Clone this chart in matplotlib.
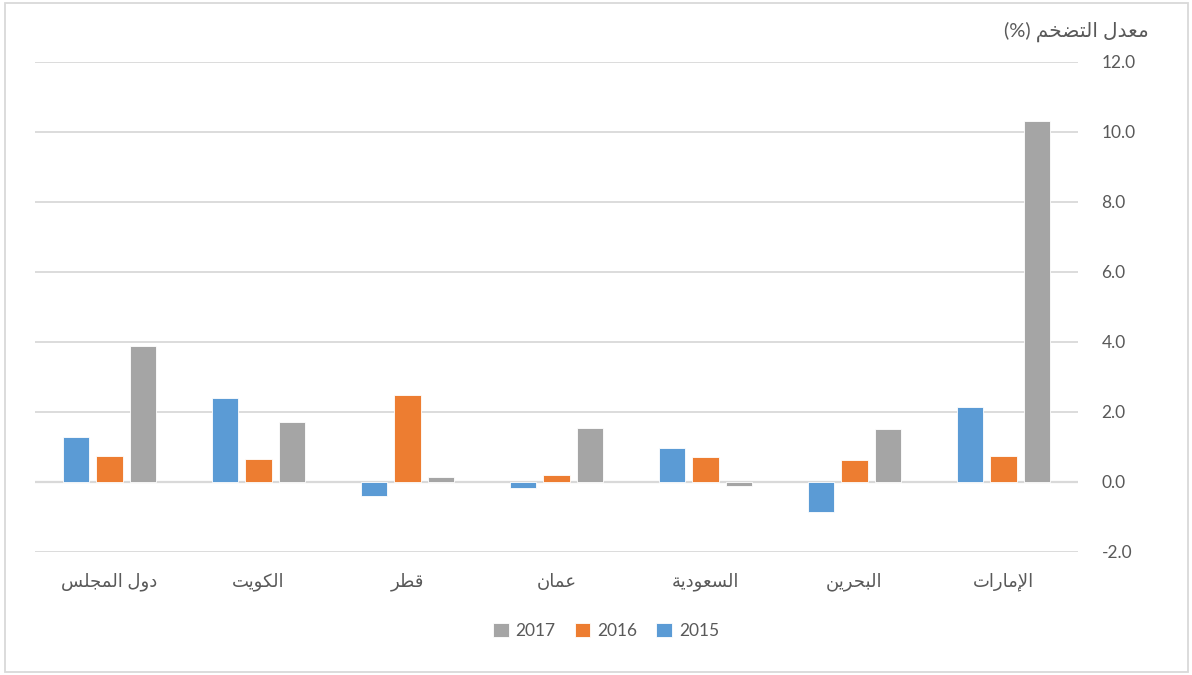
import matplotlib
matplotlib.use("Agg")
import matplotlib.pyplot as plt
import matplotlib.patches as mpatches
import numpy as np

# 数据（从右到左的阿拉伯语类别顺序）
categories = ["الإمارات", "البحرين", "السعودية", "عمان", "قطر", "الكويت", "دول المجلس"]
years = ["2015", "2016", "2017"]
values_2015 = [2.14, -0.86, 0.97, -0.17, -0.40, 2.40, 1.29]
values_2016 = [0.74, 0.63, 0.71, 0.20, 2.49, 0.66, 0.74]
values_2017 = [10.31, 1.51, -0.10, 1.54, 0.14, 1.71, 3.89]
y_ticks = [-2, 0, 2, 4, 6, 8, 10, 12]
axis_title = "معدل التضخم"

colors = {"2015": "#5b9bd5", "2016": "#ed7d31", "2017": "#a5a5a5"}
text_color = "#595959"
grid_color = "#d9d9d9"

# 阿拉伯字母连写形式：(独立, 词尾, 词首, 词中)
FORMS = {
    "\u0627": ("\uFE8D", "\uFE8E", None, None),
    "\u0625": ("\uFE87", "\uFE88", None, None),
    "\u0628": ("\uFE8F", "\uFE90", "\uFE91", "\uFE92"),
    "\u0629": ("\uFE93", "\uFE94", None, None),
    "\u062A": ("\uFE95", "\uFE96", "\uFE97", "\uFE98"),
    "\u062C": ("\uFE9D", "\uFE9E", "\uFE9F", "\uFEA0"),
    "\u062D": ("\uFEA1", "\uFEA2", "\uFEA3", "\uFEA4"),
    "\u062E": ("\uFEA5", "\uFEA6", "\uFEA7", "\uFEA8"),
    "\u062F": ("\uFEA9", "\uFEAA", None, None),
    "\u0631": ("\uFEAD", "\uFEAE", None, None),
    "\u0633": ("\uFEB1", "\uFEB2", "\uFEB3", "\uFEB4"),
    "\u0636": ("\uFEBD", "\uFEBE", "\uFEBF", "\uFEC0"),
    "\u0637": ("\uFEC1", "\uFEC2", "\uFEC3", "\uFEC4"),
    "\u0639": ("\uFEC9", "\uFECA", "\uFECB", "\uFECC"),
    "\u0642": ("\uFED5", "\uFED6", "\uFED7", "\uFED8"),
    "\u0643": ("\uFED9", "\uFEDA", "\uFEDB", "\uFEDC"),
    "\u0644": ("\uFEDD", "\uFEDE", "\uFEDF", "\uFEE0"),
    "\u0645": ("\uFEE1", "\uFEE2", "\uFEE3", "\uFEE4"),
    "\u0646": ("\uFEE5", "\uFEE6", "\uFEE7", "\uFEE8"),
    "\u0647": ("\uFEE9", "\uFEEA", "\uFEEB", "\uFEEC"),
    "\u0648": ("\uFEED", "\uFEEE", None, None),
    "\u064A": ("\uFEF1", "\uFEF2", "\uFEF3", "\uFEF4"),
}
LAM_ALEF = {"\u0627": ("\uFEFB", "\uFEFC"), "\u0625": ("\uFEF9", "\uFEFA")}


def joins_next(ch):
    return ch in FORMS and FORMS[ch][2] is not None


def shape_word(word):
    # 处理 lam-alef 连字
    chars = []
    i = 0
    while i < len(word):
        if word[i] == "\u0644" and i + 1 < len(word) and word[i + 1] in LAM_ALEF:
            chars.append(("LA", word[i + 1]))
            i += 2
        else:
            chars.append(("C", word[i]))
            i += 1
    out = []
    for k, (kind, ch) in enumerate(chars):
        prev = chars[k - 1] if k > 0 else None
        nxt = chars[k + 1] if k + 1 < len(chars) else None
        prev_joins = prev is not None and prev[0] == "C" and joins_next(prev[1])
        if kind == "LA":
            out.append(LAM_ALEF[ch][1 if prev_joins else 0])
            continue
        if ch not in FORMS:
            out.append(ch)
            continue
        iso, fin, ini, med = FORMS[ch]
        next_ok = nxt is not None and (nxt[0] == "LA" or nxt[1] in FORMS)
        can_next = ini is not None and next_ok
        if prev_joins and can_next:
            out.append(med)
        elif prev_joins:
            out.append(fin)
        elif can_next:
            out.append(ini)
        else:
            out.append(iso)
    return "".join(out)


def ar(text):
    # 连写后反转为从左到右的显示顺序
    words = [shape_word(w) for w in text.split(" ")]
    return " ".join(words)[::-1]


font_family = ["Lato", "DejaVu Sans"]
plt.rcParams["font.family"] = font_family

fig = plt.figure(figsize=(11.92, 6.75), dpi=100)
ax = fig.add_axes([35 / 1192, 1 - 552 / 675, 1043 / 1192, 490 / 675])

x = np.arange(len(categories))
w = 0.175
off = 0.225
series = [values_2015, values_2016, values_2017]
offsets = [off, 0, -off]  # x 轴反向，正偏移显示在左侧
for year, vals, o in zip(years, series, offsets):
    ax.bar(x + o, vals, width=w, color=colors[year], edgecolor="white",
           linewidth=0.6, label=year, zorder=3)

ax.set_xlim(-0.5, len(categories) - 0.5)
ax.invert_xaxis()
ax.set_ylim(-2, 12)

ax.set_xticks(x)
ax.set_xticklabels([ar(c) for c in categories], fontsize=13, color=text_color)
ax.tick_params(axis="x", length=0, pad=15)

ax.yaxis.tick_right()
ax.set_yticks(y_ticks)
ax.set_yticklabels([f"{v:.1f}" for v in y_ticks], fontsize=12.5, color=text_color)
ax.tick_params(axis="y", length=0, pad=17)

ax.grid(True, axis="y", color=grid_color, linewidth=1.3, zorder=0)
ax.axhline(0, color=grid_color, linewidth=1.6, zorder=2)
for sp in ax.spines.values():
    sp.set_visible(False)

fig.text(1149 / 1192, 1 - 32 / 675, "(%) " + ar(axis_title), ha="right",
         va="center", fontsize=14.5, color=text_color)

handles, labels = ax.get_legend_handles_labels()
fig.legend(handles[::-1], labels[::-1], loc="center", ncol=3,
           bbox_to_anchor=(606 / 1192, 1 - 631 / 675), frameon=False,
           fontsize=12.5, labelcolor=text_color, handlelength=0.9,
           handleheight=0.9, handletextpad=0.4, columnspacing=1.1)

# 图表外框
fig.patches.append(mpatches.Rectangle((5 / 1192, 3 / 675), 1183 / 1192, 669 / 675,
                                      transform=fig.transFigure, fill=False,
                                      edgecolor=grid_color, linewidth=1.3))

fig.savefig("out.png", dpi=100)
